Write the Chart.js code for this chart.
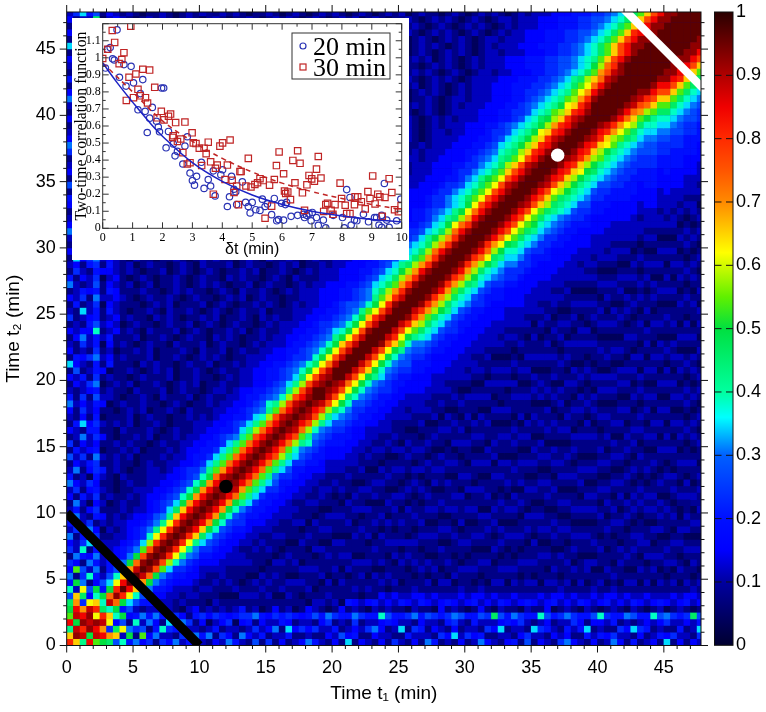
<!DOCTYPE html>
<html>
<head>
<meta charset="utf-8">
<script src="https://cdn.jsdelivr.net/npm/chart.js@4"></script>
<style>
  html, body { margin: 0; background: #fff; }
  canvas { position: absolute; display: block; }
  #inset { left: 72px; top: 18px; background: #fff; }
  #bar { left: 700px; top: 0; }
  #main { left: 0; top: 0; }
</style>
</head>
<body>
<canvas id="main" width="766" height="712"></canvas>
<canvas id="inset" width="337" height="242"></canvas>
<canvas id="bar" width="66" height="712"></canvas>
<script>
// ─── heat map: half-minute cells, letter a..z = 0..0.96 in steps of 0.0385 ───
const CELL_MIN = 0.5;
const LEVEL_STEP = 0.0385;

// cells t1 = 0..3 min of each t2 row (mirrored to the bottom strip)
const edgeRows = [
  'v','ry','lxv','wnyx','oxwyq','nwsxvm',
  'msgqrk','hrmekn','kdqhnf','fniceh','icgkfd','eohdic','gecifd','cifeid',
  'gdkcfe','edgjcd','icfdgc','dgcieb','fedgcd','cidcfe','dfcegc','cidbed',
  'ecfdgc','dgcefd','iedgec','fcdbfd','dicegf','cedfgc','hdgcid','cfdefb',
  'gcedec','cdidge','edcffc','cfjegd','dcecfb','ecgdec','idedfe','fcgchd',
  'dcdefc','cedgib','edfcgc','chcdfe','jedcfc','cfegid','ecdcgc','dcgdfb',
  'ceidfd','edeekc','cdcfhd','gcdefc','dcjdfc','cfcdgb','edgcid','cdfefc',
  'idcdhc','fcedgb','cgdcfe','decfgc','cjegid','edcdhc','cgdcfb','dedffc',
  'ifcdhe','ecgdgc','dcedmb','cdjehd','edcffc','fcdeic','cedggb','hgcdfd',
  'cdjcfc','edgdkc','dcfehe','cedcfb','gdcdgc','iefdid','ecdggc','dcfefb',
  'cfjcfd','edcehc','cfdekb','decdgc','igcffd','edgcfc','cdedib','fcjchd',
  'cegdfc','dcfefb','edcdkc','cfdehd','jecgib','cgcdgc','edfdfd','cdcegc',
  'ecddmb','dgjfhc'
];

// each t2 row from the diagonal outwards (lag 0, 0.5, 1 ... min)
const bandRows = [
  '','','','','','',
  'x','yt','zvn','zwqj','zwrkh','zxslhf','zytnigf','zyunifee',
  'zyuoigfed','zyvpjgfedd','zyvqkgfeddc','zyvqligfedcd','zyvqligfeeddc','zywrlihfeedcdc',
  'zywrmjgfeddcdcc','zywsnjhgfedccdcb','zywsnkhgfeedcdccd','zywsnkhgfeedddccbc','zywsnkhgfeeddccdcbc',
  'zyxtnkhgfeedddcccdbc','zywsoliggfedcddccbcdc','zywtoljgfeeddccdcbccdc','zywtoljgffeddcdcccbdcdc',
  'zywtoljgffeedcdcccbdcdcc','zywtoljgffeeddccdcbccdcdc','zywuolihgfeeddcdccbdcdccbc',
  'zywtpljgffeeddccdcbcdcccdbc','zywtoljhgfeedddcccbcdccbdcdc','zyxupkjgffeedcdcdccbccdcbdccc',
  'zywtolihgfeeddcccdbcdccbdcdcbc','zyxuplkhgfeeddcdccbcdcbccdccdcb','zywupkihgffeddccdcbdcccdbcdccbcd',
  'zzxuplihgffeedcddcbccdcbdcccdbccd','zyxupljhgfeeddccdccbdcdcbcdccbdcdc','zyxuqmjhgffeeddcdcbccdccbdcccdcbccd',
  'zzxuqnkihgffeeddccdcbcdccbdcdcbcdccb','zzxtqmkihgffeeddcdccbdccdcbccdcdbccc','zzxuqnkhggfeeedddccbcdcdcbcdccbdcccdc',
  'zzxuqnkihgffeeddccdcbdccdbcdcccbdcdccb','zzxurnkihgffedddcdcbccdcbdcccdbccdcbcdc','zzxuqnlihgffeeddcdccbcdcdbccdcbcdccbdcc',
  'zzyuqnkjhgffeeddccdcbdcdccbcdcbdcccdbcdc','zzxuqnkihggfeedddcdcbccdcbcdcbdccdcbccdcb','zzxvrnkihgffeeddccdcdbcdccbdcdccbcdcdbccdc',
  'zzxuqolihgffeedddcccbdccdcbcdcbcdccdbcdccb','zzyvqnkihhgfeeddcdcbcdcdccbcdcbdcccbdcdcbcc','zzxvrolihgffeeedddccbccdcbdcdcbccdcbcdccdcb',
  'zzyvspmkihgffeeedddcdcbcdccdbcdcbccdcdcbccdcc','zzyvsomkjhgffeeeddcdcbccdcbdccbcdcdcbcdccbdcb','zzyvspmkjhgfeeedddcccdbcdcbccdcdbccdcbcdccbcdc',
  'zzywspnkjhgffeeedddcdcbcdccbdcdccbcdcbcdcbdccbc','zzyvspmljhgffeeeddcdccbdcdcbccdcbdcccdbcdcbccdcb','zzyvsomkjhggfeeedddccdcbcdccdbcdcbccdcdcbcdccbccd',
  'zzywtpmkjhgffeeeddddcbcdcbcdcdcbccdcbdcccdbcdccbdc','zzyvspmkjigffeeedddcdcbdccdcbcdccbcdcdbcdcbccdcbcdcc','zzyvspnljhgffeeeddcddcbcdccbdcdcbcdccbdccdcbcdcbccdcb',
  'zzywtpmkjhggfeeedddccdcbcdcbdccdcbcdcbcdccbdccdcbcdcbc','zzyvtqnkjhgffeeedddcdccbdcdcbcdccbdcdcbccdcbdcdccbcdccb','zzywspmljigffeeeddddcbcdcdcbcdcbccdcdbcdccbcdcdcbcdcbcc',
  'zzywtqnljihgffeeeddcdcbcdcdccbdcbcdccbdcdcbcdccbdcdcbcdc','zzywuqnkjiggfeeedddcdccbcdcdbccdcbcdccbdccdcbcdcbcdcbccdc','zzywuqomkjiggfeeedddcdcbcdcbdcdccbcdcdcbcdccbdcdcbcdccbcd',
  'zzywuqomkjiggfeeeedddccdcbcdcbcdccdbcdcbcdccdbcdcbccdcbcdc','zzyxuqomkjhggfeeedddcdcbccdcdcbcdccbdcdcbcdcbcdccbdcdcbccdc','zzywuqonljigffeeeddddcbcdccdcbdcdcbcdccbcdcdcbcdcbcdccbdccdc',
  'zzywuromkjiggfeeedddcdcdcbccdcbcdcdbccdcbdcdcbcdccbcdcdcbcdcc','zzyxurpmkjiggffeeedddccdcbcdcdcbccdcbdccdcbcdcbcdcdcbccdcbcdcb','zzywuqomljihgfeeeeddcddcbcdcbcdccdbcdcbcdccbdcdcbcdccbcdcdcbccd',
  'zzywvrpmlkihgffeeedddcdcbcdcdcbcdccbdcdcbcdcbccdcdcbcdcbcdccbdcc','zzywvrpnlkjhgffeeedddcdccbcdcbdcdcbcdccbcdcdcbcdccdcbcdcbcdcbccdc','zzyxvrpnlkjhgffeeeddddcbcdcdcbcdccbdcdcbcdccbdcdcbcdcbccdcbcdcdcb',
  'zzywvrqnlkjhggfeeeddcddcbcdcbcdcdccbcdcbdcdcbcdccbcdcdcbcdcbcdccbc','zzywvspnlkjihgffeeedddcdcbcdccbdcdcbcdcbccdcbdcdccbcdcbcdcdcbcdccbd','zzyxvrpnmkjhgffeeedddcdcdcbcdcdcbcdccbcdcbdcdcbcdccbcdcbcdcdcbccdcb',
  'zzywvrpolkjhggffeeeddddcbcdcbcdcdcbcdccbdcdcbcdcbccdcdcbcdcbcdccbcdc','zzzxvrqnlkjihgffeeedddcdcbcdcdcbcdcbccdcbdcdcbcdccdcbcdcbcdcdcbcdccbc','zzzyvspolkjihgffeeedddcddcbcdccbdcdcbcdcbcdcdcbccdcbdcdcbcdcbcdcdcbcc',
  'zzzywsqolkjihggffeeedddcdcbcdcdcbcdccbcdcbdcdcbcdcdcbccdcbcdcdcbcdccbd','zzzywtqomkjihggfffeeedddcdcbcdcbdcdcbcdccbcdcdcbcdcbcdcdcbcdccbdcdcbcc','zzzyxtrpmljihggfffeeeddddcbcdcdcbcdcbccdcbdcdcbcdcbccdcdcbcdcbcdcdcbcd',
  'zzzyxusomkjihggffeeeddcddcbcdcbcdcdcbcdccbcdcbdcdcbcdcdcbcdccbcdcdcbccd','zzzzyvtpnkjihhggfffeeedddcdcbcdcdcbccdcbdcdcbcdcbcdcdcbcdcbccdcbcdcdcbc','zzzzywurolkjihhggfffeeedddcdcbcdcbdcdcbcdccbcdcdcbcdcbcdcdcbcdcbccdcdcb',
  'zzzzywuromkjihggffeeedddcddcbcdcdcbcdcbccdcbdcdcbcdcbcdcdcbcdccbcdcbdcdc','zzzzyywuromkjihggfffeeedddcdcbcdcbcdcdcbcdccbcdcbdcdcbcdcbcdcdcbcdccbcdc','zzzzyywuromkjihggfffeeedddcddcbcdcdcbcdcbccdcbdcdcbcdcdcbcdcbcdccbdcdcbc',
  'zzzzyywvromkjihhggfffeeeddcdcbcdcbcdcdcbcdccbcdcbdcdcbcdcbcdcdcbcdccbcdcb','zzzzyywuromkjihggfffeeedddcdcbcdcdcbcdcbcdccbdcdcbcdcbcdcdcbcdcbccdcbdcdc','zzzzyywuromkjihhggfffeeedddcddcbcdcbcdcdcbcdccbcdcbdcdcbcdcbcdcdcbcdccbcd',
  'zzzzyywuromkjihggfffeeedddcdcbcdcdcbcdcbccdcbdcdcbcdcbcdcdcbcdcbcdccbcdcdc','zzzzyywuromkjihggfffeeedddcdcbcdcbcdcdcbcdccbcdcbdcdcbcdcdcbcdcbccdcbdcdcb'
];

// t1 = 3..10.5 min of t2 rows from 20 min up, only where bandRows stops short
const lowRows = [
  'edcdcbcdccdbcdc','decdbcdcbccdcbd','fdcdccbdcdcbcdc','edccdcbcdcbcdcc','dedcbcdccbdcdcb','edcdcbccdcbcdcd',
  'fcdccdbcdcbdccb','dedcdcbcdccbdcd','edccbdcdcbccdcb','decdcbcdcdbccdc','fdcbcdccdcbcdcb','edcdccbdcbcdccd',
  'dedcbcdcdbccdcb','fecdcbccdcbdcdc','edcdcdbcdccbcdc','decbcdcbcdcdcbc','edcdccbcdcbccdc','fdcdbcdcdcbcdcb',
  'edcbcdccbdcdccb','dedcdcbcdcbcdcd','edcbcdcdcbccdcb','fecdcbcdccbdcdc','dedcdcbccdcbcdc','edcbcdcbcdcdccb',
  'decdccbdcdcbcdc','fdcdcbcdcbccdcb','edcbcdccdbcdccd','decdcbcdcbcdcdc','edccbdcdcbccdcb','fdcdcbccdcbdcdc',
  'edcdbcdcdcbcdcb','decbcdccbcdcdcc','edcdcbcdcdbccdc','fecdcbcdcbcdccb','dedcbccdcbdcdcb','edcdcdbccdcbcdc',
  'decbcdcdcbcdccb','fdcdccbcdcbdcdc','edcbcdcdbccdcbc','dedccbdcdcbcdcd','edcdcbcdccbcdcb','fecbcdcdcbccdcd',
  'dedcdcbcdcbcdcb','edcbccdcbdcdccd','decdcbcdcdbcdcb','fdcdcbccdcbcdcd','edcbcdcbcdccbdc','decdccbdcdcbcdc',
  'edcbcdcdcbcdcbc','fdcdcbcdccbdcdb','edccbcdcdcbccdc','decdcbdccdcbcdc','edcbcdcbcdcdcbc','fecdccbcdcbdcdc',
  'dedcbcdcdcbcdcb','edcdcbccdcbcdcd'
];
const lowRowsFrom = 40;

// marks laid over the map (t1, t2 in minutes)
const blackCutT1 = [0, 10];
const blackCutT2 = [10, 0];
const whiteCutT1 = [42, 48];
const whiteCutT2 = [48, 42];
const blackDot = [12, 12];
const whiteDot = [37, 37];

// colour bar stops: level, colour
const barLevels = [0, 0.1, 0.15, 0.2, 0.3, 0.36, 0.4, 0.5, 0.55, 0.62, 0.7, 0.75, 0.8, 0.85, 0.9, 1];
const barColors = [
  [0,0,48],[0,0,160],[0,0,255],[0,16,255],[0,96,255],[0,255,255],[0,255,160],[0,224,64],
  [96,240,0],[255,255,0],[255,138,0],[255,85,0],[255,42,0],[240,0,0],[176,0,0],[42,0,0]
];

// ─── inset: two-time correlation ─────────────────────────
const lags20 = [.48,.25,.16,.33,.39,.71,.95,.09,.56,1.34,1.03,.78,1.97,2.04,1.26,1.66,1.18,1.42,1.57,1.8,1.86,1.49,1.9,2.2,2.83,
  2.12,2.36,2.5,2.42,2.75,2.68,2.92,3.14,3,3.07,3.53,3.39,3.61,3.76,3.3,3.7,4.01,3.95,4.31,4.39,4.24,4.17,4.48,
  4.67,4.45,4.78,4.87,4.93,5,5.12,5.26,5.34,5.43,5.51,5.65,5.74,5.88,5.82,5.98,6.11,6.15,6.05,6.3,6.52,6.75,6.71,6.82,6.9,7.01,7.15,6.97,7.21,7.38,7.46,
  7.71,8.02,8.08,8.31,8.16,8.27,8.42,8.5,8.72,8.89,9.09,9.16,9.24,9.33,9.5,9.58,9.42,9.83,9.97,9.33];
const corr20 = [1.164,1.06,1.05,.994,.987,.96,.95,.94,.886,.872,.853,.834,.823,.823,.79,.709,.695,.686,.646,.628,.594,.562,.566,.568,.537,
  .472,.495,.451,.425,.482,.377,.324,.305,.28,.253,.286,.234,.248,.19,.387,.337,.343,.314,.305,.229,.185,.128,.139,
  .272,.215,.152,.128,.09,.152,.109,.105,.171,.128,.143,.08,.175,.051,.044,.147,.139,.152,.048,.07,.076,.063,.082,.076,.086,.093,.063,.044,.017,.048,.003,
  .076,.063,.003,.019,.227,.181,.048,.044,.082,.038,.063,.063,.019,.006,.048,.006,.263,.044,.171,.076];

const lags30 = [.32,.94,.4,.71,0,.17,.64,.55,.88,1.11,1.34,1.57,1.74,1.18,1.03,.79,1.25,1.43,1.5,1.96,2.27,2.2,1.82,2.05,2.44,2.75,2.99,2.36,
  2.34,2.5,2.61,2.68,2.83,2.92,3.03,3.12,3.23,3.39,3.46,3.53,3.31,3.61,3.77,3.83,3.92,4.01,4.26,4.17,4.09,4.33,4.48,4.39,3.7,4.59,4.54,
  4.87,4.63,5.9,6.52,6.36,6.6,5.81,7.21,7.15,6.05,6.9,6.99,7.08,7.3,6.83,6.43,5.74,5.26,5.37,5.58,5.18,5.09,4.96,4.79,6.08,6.19,6.12,6.68,6.28,5.65,5.43,6.75,
  7.39,7.52,7.46,7.77,7.64,7.7,7.94,7.99,8.11,8.16,8.27,8.42,8.44,8.53,8.65,8.78,8.87,8.94,9.11,9.03,9.2,9.27,9.44,9.67,9.58,9.35,9.76,9.89,9.98];
const corr30 = [1.16,1.185,1.09,1.03,.996,1.05,.99,.966,.886,.905,.933,.928,.827,.815,.766,.75,.777,.766,.735,.686,.67,.657,.648,.636,.62,.623,.56,.543,
  .533,.509,.524,.444,.377,.385,.501,.497,.47,.47,.438,.505,.368,.39,.352,.371,.482,.501,.518,.371,.286,.282,.248,.21,.2,.333,.139,
  .41,.333,.448,.455,.398,.381,.368,.421,.347,.32,.31,.29,.276,.295,.255,.267,.286,.291,.28,.253,.267,.257,.242,.248,.219,.213,.204,.208,.168,.13,.059,.105,
  .099,.147,.139,.139,.105,.082,.265,.175,.135,.086,.086,.139,.185,.185,.156,.114,.215,.175,.143,.307,.2,.185,.181,.21,.291,.07,.109,.097,.133];

const fitLags20 = [0, .5, 1, 1.5, 2, 3, 4, 5, 6, 7, 8, 9, 10];
const fitCorr20 = [.97, .85, .74, .635, .54, .385, .275, .195, .14, .1, .072, .052, .037];
const fitLags30 = [0, 1, 2, 3, 4, 5, 6, 7, 8, 9, 10];
const fitCorr30 = [.97, .8, .63, .51, .41, .33, .265, .215, .175, .14, .11];

const insetSeries = ['20 min', '30 min'];
const BLUE = '#2a33b4';
const RED = '#c02424';
const INK = '#111';

// ─── helpers ─────────────────────────────────────────────
function colorOf(v) {
  let i = 0;
  while (i < barLevels.length - 2 && v > barLevels[i + 1]) i++;
  const f = Math.min(1, Math.max(0, (v - barLevels[i]) / (barLevels[i + 1] - barLevels[i])));
  const a = barColors[i], b = barColors[i + 1];
  return `rgb(${a.map((c, k) => Math.round(c + (b[k] - c) * f)).join(',')})`;
}
const levelOf = (ch) => (ch.charCodeAt(0) - 97) * LEVEL_STEP;

function buildCells() {
  const cells = [];
  const seen = new Set();
  const put = (i, j, ch) => {
    const key = i * 100 + j;
    if (seen.has(key)) return;
    seen.add(key);
    const v = levelOf(ch);
    const a = (i + 0.5) * CELL_MIN, b = (j + 0.5) * CELL_MIN;
    cells.push({ x: b, y: a, v });
    if (i !== j) cells.push({ x: a, y: b, v });
  };
  edgeRows.forEach((row, i) => {
    for (let j = 0; j < row.length && j <= i; j++) put(i, j, row[j]);
  });
  bandRows.forEach((row, i) => {
    for (let k = 0; k < row.length && i - k >= 6; k++) put(i, i - k, row[k]);
  });
  lowRows.forEach((row, r) => {
    for (let k = 0; k < row.length; k++) put(lowRowsFrom + r, 6 + k, row[k]);
  });
  return cells;
}

function tickLine(ctx, x0, y0, x1, y1) {
  ctx.beginPath();
  ctx.moveTo(x0, y0);
  ctx.lineTo(x1, y1);
  ctx.stroke();
}

// 축 라벨 때문에 생기는 여백 제거, 플롯 영역을 고정
function fixBox(s, size) {
  if (s.isHorizontal()) s.height = size; else s.width = size;
  s.paddingTop = s.paddingBottom = s.paddingLeft = s.paddingRight = 0;
}

// 1 min 눈금 + 5 min 긴 눈금, 네 변 모두 바깥쪽
const outerTicks = {
  id: 'outerTicks',
  beforeDatasetsDraw(chart) {
    const { ctx, chartArea: a } = chart;
    ctx.save();
    ctx.fillStyle = colorOf(0.09);
    ctx.fillRect(a.left, a.top, a.right - a.left, a.bottom - a.top);
    ctx.restore();
  },
  afterDraw(chart) {
    const { ctx, chartArea: a, scales } = chart;
    ctx.save();
    ctx.strokeStyle = INK;
    ctx.lineWidth = 1;
    ctx.strokeRect(a.left, a.top, a.right - a.left, a.bottom - a.top);
    for (let v = 0; v <= 47; v++) {
      const len = v % 5 === 0 ? 7 : 3.5;
      const x = scales.x.getPixelForValue(v), y = scales.y.getPixelForValue(v);
      tickLine(ctx, x, a.bottom, x, a.bottom + len);
      tickLine(ctx, x, a.top, x, a.top - len);
      tickLine(ctx, a.left, y, a.left - len, y);
      tickLine(ctx, a.right, y, a.right + len, y);
    }
    ctx.restore();
  }
};

// 인셋: 안쪽 눈금 + 범례
const insetDecor = {
  id: 'insetDecor',
  afterDraw(chart) {
    const { ctx, chartArea: a, scales } = chart;
    ctx.save();
    ctx.strokeStyle = '#333';
    ctx.lineWidth = 1;
    ctx.strokeRect(a.left, a.top, a.right - a.left, a.bottom - a.top);
    for (let k = 0; k <= 20; k++) {
      const len = k % 2 === 0 ? 6 : 3;
      const x = scales.x.getPixelForValue(k / 2);
      tickLine(ctx, x, a.bottom, x, a.bottom - len);
      tickLine(ctx, x, a.top, x, a.top + len);
    }
    for (let k = 0; k <= 24; k++) {
      const len = k % 2 === 0 ? 6 : 3;
      const y = scales.y.getPixelForValue(k * 0.05);
      tickLine(ctx, a.left, y, a.left + len, y);
      tickLine(ctx, a.right, y, a.right - len, y);
    }
    // legend box
    ctx.fillStyle = '#fff';
    ctx.fillRect(220, 15, 98, 46);
    ctx.strokeRect(220, 15, 98, 46);
    ctx.lineWidth = 1.2;
    ctx.strokeStyle = BLUE;
    ctx.beginPath();
    ctx.arc(231, 28, 3, 0, Math.PI * 2);
    ctx.stroke();
    ctx.strokeStyle = RED;
    ctx.strokeRect(228, 46, 6, 6);
    ctx.fillStyle = '#000';
    ctx.font = '26px "Liberation Serif"';
    ctx.fillText(insetSeries[0], 241, 37);
    ctx.fillText(insetSeries[1], 241, 58);
    ctx.restore();
  }
};

// 컬러바: 양쪽 안쪽 대시 눈금
const barTicks = {
  id: 'barTicks',
  afterDraw(chart) {
    const { ctx, chartArea: a, scales } = chart;
    ctx.save();
    ctx.strokeStyle = INK;
    ctx.lineWidth = 1;
    ctx.strokeRect(a.left, a.top, a.right - a.left, a.bottom - a.top);
    for (let k = 1; k < 10; k++) {
      const y = scales.y.getPixelForValue(k / 10);
      tickLine(ctx, a.left, y, a.left + 7, y);
      tickLine(ctx, a.right, y, a.right - 7, y);
    }
    ctx.restore();
  }
};

Chart.defaults.animation = false;
Chart.defaults.responsive = false;
Chart.defaults.plugins.legend.display = false;
Chart.defaults.plugins.tooltip.enabled = false;
Chart.defaults.color = '#000';

const SANS = '"Liberation Sans"';
const SERIF = '"Liberation Serif"';

// ─── main map ────────────────────────────────────────────
const cells = buildCells();
new Chart(document.getElementById('main'), {
  type: 'scatter',
  plugins: [outerTicks],
  data: {
    datasets: [
      {
        label: 'dots black',
        data: [{ x: blackDot[0], y: blackDot[1] }],
        pointRadius: 6.7, pointBackgroundColor: '#000', pointBorderWidth: 0, order: 0
      },
      {
        label: 'dots white',
        data: [{ x: whiteDot[0], y: whiteDot[1] }],
        pointRadius: 6.7, pointBackgroundColor: '#fff', pointBorderWidth: 0, order: 0
      },
      {
        label: 'cut black',
        data: blackCutT1.map((x, i) => ({ x, y: blackCutT2[i] })),
        showLine: true, borderColor: '#000', borderWidth: 9, pointRadius: 0, order: 1
      },
      {
        label: 'cut white',
        data: whiteCutT1.map((x, i) => ({ x, y: whiteCutT2[i] })),
        showLine: true, borderColor: '#fff', borderWidth: 8, pointRadius: 0, order: 1
      },
      {
        label: 'g2',
        data: cells,
        pointStyle: 'rect',
        pointRadius: 5,
        pointBorderWidth: 0,
        pointBackgroundColor: cells.map(c => colorOf(c.v)),
        order: 3
      }
    ]
  },
  options: {
    layout: { padding: { top: 12, right: 65, left: 0, bottom: 0 } },
    scales: {
      x: {
        type: 'linear', min: 0, max: 47.8,
        grid: { display: false, drawTicks: false },
        border: { display: false },
        afterBuildTicks: s => { s.ticks = [0,5,10,15,20,25,30,35,40,45].map(value => ({ value })); },
        ticks: { padding: 12, maxRotation: 0, font: { family: SANS, size: 18 } },
        title: { display: true, text: 'Time t₁ (min)', padding: { top: 0, bottom: 7 }, font: { family: SANS, size: 19 } },
        afterFit: s => fixBox(s, 66.5)
      },
      y: {
        type: 'linear', min: 0, max: 47.8,
        grid: { display: false, drawTicks: false },
        border: { display: false },
        afterBuildTicks: s => { s.ticks = [0,5,10,15,20,25,30,35,40,45].map(value => ({ value })); },
        ticks: { padding: 11, font: { family: SANS, size: 18 } },
        title: { display: true, text: 'Time t₂ (min)', padding: { top: 2, bottom: 0 }, font: { family: SANS, size: 19 } },
        afterFit: s => fixBox(s, 66.7)
      }
    }
  }
});

// ─── inset ───────────────────────────────────────────────
new Chart(document.getElementById('inset'), {
  type: 'scatter',
  plugins: [insetDecor],
  data: {
    datasets: [
      {
        label: 'fit 20',
        data: fitLags20.map((x, i) => ({ x, y: fitCorr20[i] })),
        showLine: true, borderColor: '#1c22c4', borderWidth: 1.5, pointRadius: 0, tension: 0.4, order: 0
      },
      {
        label: 'fit 30',
        data: fitLags30.map((x, i) => ({ x, y: fitCorr30[i] })),
        showLine: true, borderColor: RED, borderWidth: 1.5, borderDash: [5, 4], pointRadius: 0, tension: 0.4, order: 0
      },
      {
        label: insetSeries[1],
        data: lags30.map((x, i) => ({ x, y: corr30[i] })),
        pointStyle: 'rect', pointRadius: 4.5, pointBorderColor: RED, pointBorderWidth: 1.2,
        pointBackgroundColor: 'transparent', order: 1
      },
      {
        label: insetSeries[0],
        data: lags20.map((x, i) => ({ x, y: corr20[i] })),
        pointRadius: 3.2, pointBorderColor: BLUE, pointBorderWidth: 1.2,
        pointBackgroundColor: 'transparent', order: 2
      }
    ]
  },
  options: {
    layout: { padding: { top: 0.3, right: 7.3, left: 0, bottom: 0 } },
    scales: {
      x: {
        type: 'linear', min: 0, max: 10,
        grid: { display: false, drawTicks: false },
        border: { display: false },
        afterBuildTicks: s => { s.ticks = [0,1,2,3,4,5,6,7,8,9,10].map(value => ({ value })); },
        ticks: { padding: 2, maxRotation: 0, font: { family: SERIF, size: 12 } },
        title: { display: true, text: 'δt (min)', padding: { top: 0, bottom: 1 }, font: { family: SANS, size: 16 } },
        afterFit: s => fixBox(s, 31.7)
      },
      y: {
        type: 'linear', min: 0, max: 1.2,
        grid: { display: false, drawTicks: false },
        border: { display: false },
        afterBuildTicks: s => { s.ticks = [0,.1,.2,.3,.4,.5,.6,.7,.8,.9,1,1.1].map(value => ({ value })); },
        ticks: { padding: 2, font: { family: SERIF, size: 12 }, callback: v => String(v) },
        title: { display: true, text: 'Two-time correlation function', padding: { top: 0, bottom: 0 }, font: { family: SERIF, size: 15.7 } },
        afterFit: s => fixBox(s, 30.7)
      }
    }
  }
});

// ─── colour bar ──────────────────────────────────────────
new Chart(document.getElementById('bar'), {
  type: 'bar',
  plugins: [barTicks],
  data: {
    labels: ['g2'],
    datasets: [{
      data: [[0, 1]],
      barPercentage: 1,
      categoryPercentage: 1,
      backgroundColor: (ctx) => {
        const area = ctx.chart.chartArea;
        if (!area) return '#000';
        const g = ctx.chart.ctx.createLinearGradient(0, area.bottom, 0, area.top);
        barLevels.forEach((lv) => g.addColorStop(lv, colorOf(lv)));
        return g;
      }
    }]
  },
  options: {
    layout: { padding: { top: 12, bottom: 66.7, left: 14.5, right: 0 } },
    scales: {
      x: { display: false },
      y: {
        type: 'linear', min: 0, max: 1, position: 'right',
        grid: { display: false, drawTicks: false },
        border: { display: false },
        afterBuildTicks: s => { s.ticks = [0,.1,.2,.3,.4,.5,.6,.7,.8,.9,1].map(value => ({ value })); },
        ticks: { padding: 3, font: { family: SANS, size: 18 }, callback: v => String(v) },
        afterFit: s => fixBox(s, 33)
      }
    }
  }
});
</script>
</body>
</html>
